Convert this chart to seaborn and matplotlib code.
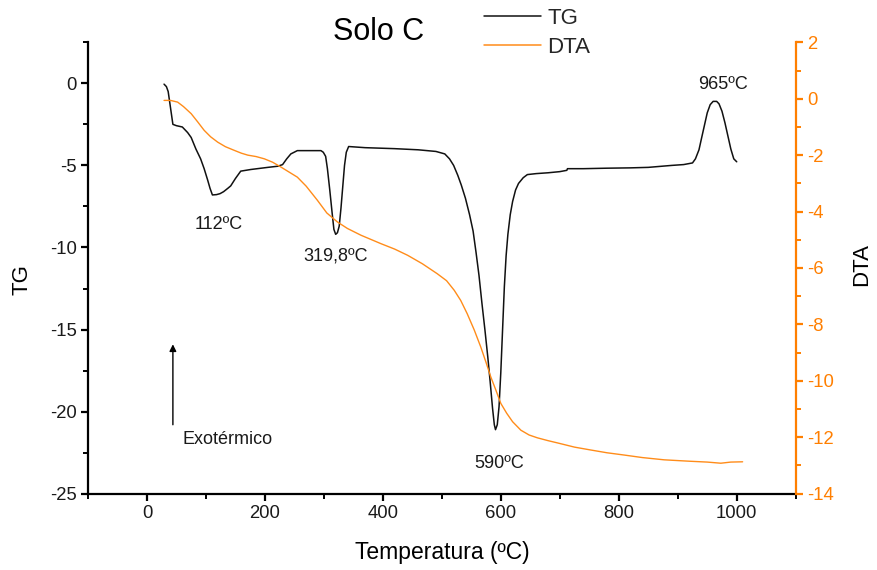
import numpy as np
import pandas as pd
import matplotlib
matplotlib.use("Agg")
import matplotlib.pyplot as plt
from matplotlib.ticker import MultipleLocator
from matplotlib.lines import Line2D
import seaborn as sns

# ---- data ----
tg_temp = [29, 33, 36, 40, 44, 50, 60, 69, 75, 83, 91, 97, 103, 107, 111, 118, 124, 130, 137, 142,
           150, 159, 176, 205, 222, 230, 237, 244, 255, 275, 295, 299, 303, 306, 310, 314, 317,
           320, 323, 326, 329, 332, 335, 338, 342, 350, 370, 420, 460, 490, 505, 513, 520, 527, 533,
           540, 547, 553, 558, 563, 568, 573, 578, 582, 586, 589, 591, 594, 597, 600, 603, 606, 609,
           612, 616, 620, 625, 630, 638, 645, 660, 680, 700, 712, 713, 740, 780, 820, 850, 890, 910,
           925, 930, 936, 940, 945, 950, 955, 960, 966, 970, 975, 980, 985, 990, 995, 1000]
tg_vals = [-0.05, -0.2, -0.5, -1.5, -2.5, -2.58, -2.66, -3.0, -3.3, -4.0, -4.6, -5.2, -5.9, -6.4,
           -6.8, -6.78, -6.72, -6.6, -6.4, -6.25, -5.8, -5.35, -5.25, -5.12, -5.05, -4.95,
           -4.6, -4.3, -4.1, -4.1, -4.1, -4.2, -4.45, -5.2, -6.5, -7.9, -8.9, -9.2, -9.1, -8.7, -7.6,
           -6.3, -5.0, -4.2, -3.85, -3.87, -3.92, -3.98, -4.05, -4.15, -4.3, -4.6, -5.0, -5.6, -6.2,
           -7.0, -8.0, -9.0, -10.3, -11.7, -13.4, -15.0, -16.7, -18.2, -19.8, -20.8, -21.1, -20.8,
           -19.7, -17.6, -15.0, -12.4, -10.5, -9.2, -8.0, -7.2, -6.5, -6.1, -5.75, -5.56, -5.5, -5.45,
           -5.38, -5.3, -5.2, -5.2, -5.17, -5.15, -5.12, -5.0, -4.95, -4.85, -4.6, -4.05, -3.4, -2.6,
           -1.8, -1.3, -1.1, -1.1, -1.25, -1.7, -2.4, -3.2, -4.0, -4.6, -4.78]

dta_temp = [29, 40, 52, 62, 75, 86, 97, 108, 120, 133, 148, 160, 171, 185, 199, 213, 227, 241, 255,
            270, 289, 305, 323, 340, 363, 397, 420, 442, 467, 492, 508, 521, 532, 543, 555, 566, 575,
            583, 592, 600, 610, 620, 634, 648, 662, 680, 696, 725, 752, 780, 809, 840, 877, 920, 950,
            973, 990, 1010]
dta_vals = [-0.06, -0.06, -0.12, -0.28, -0.53, -0.82, -1.12, -1.35, -1.54, -1.7, -1.83, -1.93, -2.0,
            -2.05, -2.13, -2.25, -2.42, -2.6, -2.78, -3.1, -3.6, -4.05, -4.37, -4.6, -4.84, -5.14,
            -5.33, -5.55, -5.85, -6.2, -6.45, -6.79, -7.15, -7.62, -8.2, -8.8, -9.35, -9.86, -10.35,
            -10.8, -11.15, -11.45, -11.75, -11.92, -12.02, -12.12, -12.2, -12.35, -12.45, -12.55,
            -12.63, -12.72, -12.8, -12.85, -12.88, -12.92, -12.88, -12.87]

peak_labels = ["112ºC", "319,8ºC", "590ºC", "965ºC"]
peak_label_x = [122, 320, 597, 976]
peak_label_y = [-8.6, -10.55, -23.15, -0.05]

tg_df = pd.DataFrame({"Temperatura": tg_temp, "TG": tg_vals})
dta_df = pd.DataFrame({"Temperatura": dta_temp, "DTA": dta_vals})

# ---- style ----
sns.set_style("ticks")
plt.rcParams["font.family"] = ["Liberation Sans", "DejaVu Sans"]
plt.rcParams["axes.unicode_minus"] = False

ORANGE_AX = "#FF7F00"
ORANGE_LN = "#FF8C1A"
TXT = "#1a1a1a"

fig = plt.figure(figsize=(8.77, 5.70), dpi=100)
ax = fig.add_axes([0.1003, 0.1339, 0.807, 0.7919])
ax2 = ax.twinx()

sns.lineplot(data=tg_df, x="Temperatura", y="TG", ax=ax, color="#111111", lw=1.1,
             sort=False, estimator=None)
sns.lineplot(data=dta_df, x="Temperatura", y="DTA", ax=ax2, color=ORANGE_LN, lw=1.0,
             sort=False, estimator=None)

ax.set_xlim(-100, 1100)
ax.set_ylim(-25, 2.5)
ax2.set_ylim(-14, 2)

ax.set_xlabel("")
ax.set_ylabel("")
ax2.set_ylabel("")

ax.xaxis.set_major_locator(MultipleLocator(200))
ax.xaxis.set_minor_locator(MultipleLocator(100))
ax.yaxis.set_major_locator(MultipleLocator(5))
ax.yaxis.set_minor_locator(MultipleLocator(2.5))
ax2.yaxis.set_major_locator(MultipleLocator(2))
ax2.yaxis.set_minor_locator(MultipleLocator(1))

for a in (ax, ax2):
    a.spines["top"].set_visible(False)
ax.spines["right"].set_visible(False)
ax2.spines["left"].set_visible(False)
ax2.spines["bottom"].set_visible(False)
for s in ("left", "bottom"):
    ax.spines[s].set_linewidth(1.6)
    ax.spines[s].set_color("black")
ax2.spines["right"].set_linewidth(1.6)
ax2.spines["right"].set_color(ORANGE_AX)

ax.tick_params(axis="both", which="major", direction="out", length=5, width=1.6,
               labelsize=13.3, colors="black", labelcolor=TXT, pad=3)
ax.tick_params(axis="both", which="minor", direction="out", length=3.5, width=1.4, colors="black")
ax2.tick_params(axis="y", which="major", direction="out", length=5, width=1.6,
                labelsize=13.3, colors=ORANGE_AX, labelcolor=ORANGE_AX, pad=3)
ax2.tick_params(axis="y", which="minor", direction="out", length=3.5, width=1.4, colors=ORANGE_AX)

xt = [0, 200, 400, 600, 800, 1000]
ax.set_xticks(xt)
ax.set_xticklabels([str(v) for v in xt])

# annotations
for lab, x, y in zip(peak_labels, peak_label_x, peak_label_y):
    ax.text(x, y, lab, ha="center", va="center", fontsize=13, color=TXT)

ax.annotate("", xy=(44, -15.9), xytext=(44, -20.8),
            arrowprops=dict(arrowstyle="-|>", color="black", lw=1.0,
                            mutation_scale=10, shrinkA=0, shrinkB=0))
ax.text(61, -21.7, "Exotérmico", ha="left", va="center", fontsize=13, color=TXT)

# titles / labels
fig.text(379 / 877, 1 - 32 / 570, "Solo C", ha="center", va="center", fontsize=22, color="black")
fig.text(442 / 877, 1 - 552 / 570, "Temperatura (ºC)", ha="center", va="center", fontsize=16.5,
         color="black")
fig.text(22 / 877, 1 - 280 / 570, "TG", ha="center", va="center", rotation=90, fontsize=16,
         color="black")
fig.text(862 / 877, 1 - 265 / 570, "DTA", ha="center", va="center", rotation=90, fontsize=16,
         color="black")

handles = [Line2D([], [], color="#111111", lw=1.1), Line2D([], [], color=ORANGE_LN, lw=1.1)]
fig.legend(handles, ["TG", "DTA"], loc="upper left", bbox_to_anchor=(484 / 877, 1 - 8 / 570),
           frameon=False, fontsize=16, handlelength=2.55, handletextpad=0.3,
           labelspacing=0.35, borderpad=0.0, borderaxespad=0.0)

fig.savefig("out.png", dpi=100)
